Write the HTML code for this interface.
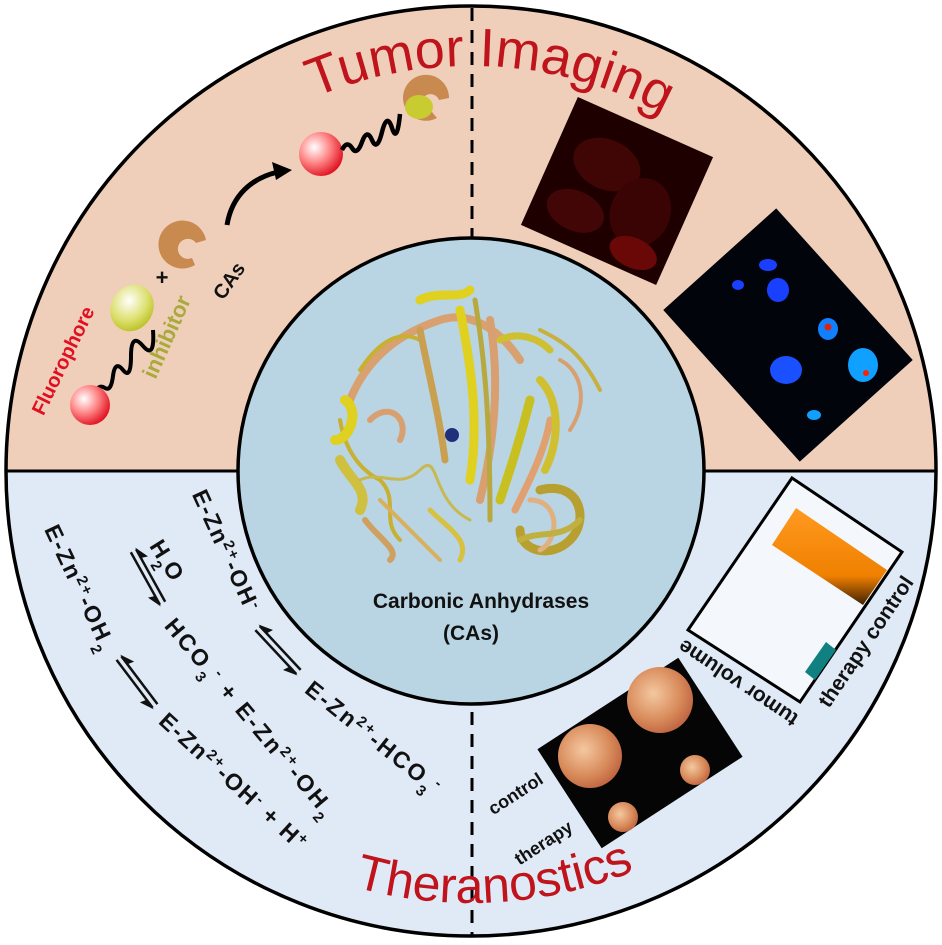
<!DOCTYPE html>
<html><head><meta charset="utf-8"><style>
html,body{margin:0;padding:0;background:#fff;}
svg{display:block;font-family:"Liberation Sans",Arial,sans-serif;}
.c{font-weight:bold;font-size:23px;fill:#111}
</style></head><body>
<svg width="942" height="945" viewBox="0 0 942 945" xmlns="http://www.w3.org/2000/svg">
<defs>
<clipPath id="top"><rect x="0" y="0" width="942" height="471"/></clipPath>
<clipPath id="bot"><rect x="0" y="471" width="942" height="480"/></clipPath>
<radialGradient id="rs" cx="0.35" cy="0.35" r="0.7"><stop offset="0" stop-color="#fff"/><stop offset="0.5" stop-color="#f88"/><stop offset="1" stop-color="#e01020"/></radialGradient>
<radialGradient id="gs" cx="0.35" cy="0.4" r="0.7"><stop offset="0" stop-color="#fff"/><stop offset="0.6" stop-color="#dde070"/><stop offset="1" stop-color="#b8c020"/></radialGradient>
<radialGradient id="tm" cx="0.4" cy="0.4" r="0.7"><stop offset="0" stop-color="#f4c8a0"/><stop offset="0.6" stop-color="#d88a5a"/><stop offset="1" stop-color="#b85a3a"/></radialGradient>
<linearGradient id="ob" x1="0" y1="0" x2="0" y2="1"><stop offset="0" stop-color="#ff9a20"/><stop offset="0.7" stop-color="#f08000"/><stop offset="1" stop-color="#402000"/></linearGradient>
<path id="p432" d="M39 471 A432 432 0 0 0 903 471"/>
<path id="ti" d="M66 471 A405 405 0 0 1 876 471"/>
<g id="eq">
<line x1="-30" y1="-3" x2="30" y2="-3" stroke="#111" stroke-width="2.5"/>
<polygon points="-32,-3 -18,-10 -20,-3" fill="#111"/>
<line x1="-30" y1="3" x2="30" y2="3" stroke="#111" stroke-width="2.5"/>
<polygon points="32,3 18,10 20,3" fill="#111"/>
</g>
</defs>
<circle cx="471" cy="471" r="465" fill="#f0cfba" clip-path="url(#top)"/>
<circle cx="471" cy="471" r="465" fill="#e0eaf6" clip-path="url(#bot)"/>
<line x1="6" y1="471" x2="936" y2="471" stroke="#000" stroke-width="3"/>
<line x1="472" y1="8" x2="472" y2="936" stroke="#000" stroke-width="3" stroke-dasharray="13,9"/>
<circle cx="471" cy="471" r="465" fill="none" stroke="#000" stroke-width="3.5"/>
<circle cx="471" cy="471" r="233" fill="#b9d4e2" stroke="#000" stroke-width="3.5"/>

<!-- protein -->
<g fill="none" stroke-linecap="round">
<path d="M350 400 C370 350 410 330 440 320 C470 310 500 330 520 360" stroke="#d9a070" stroke-width="8"/>
<path d="M360 370 C380 340 400 330 420 340" stroke="#c8b030" stroke-width="4"/>
<path d="M420 330 C430 380 440 420 445 460" stroke="#c8a050" stroke-width="7"/>
<path d="M460 310 C470 360 480 420 470 480" stroke="#e0d020" stroke-width="9"/>
<path d="M490 320 C500 380 495 440 480 500" stroke="#d8a070" stroke-width="8"/>
<path d="M475 300 C485 360 490 420 490 520" stroke="#b8a840" stroke-width="5"/>
<path d="M530 400 C520 440 510 470 500 500" stroke="#c8c020" stroke-width="9"/>
<path d="M550 420 C545 450 530 480 515 510" stroke="#e0a070" stroke-width="7"/>
<path d="M540 380 C560 400 560 440 545 470" stroke="#d0c030" stroke-width="8"/>
<path d="M340 420 C345 450 360 470 380 480 C400 500 380 520 400 540" stroke="#c8b030" stroke-width="4"/>
<path d="M345 400 C360 410 350 440 335 440" stroke="#e0d020" stroke-width="10"/>
<path d="M340 460 C350 480 370 490 360 510" stroke="#d0c040" stroke-width="10"/>
<path d="M365 520 C380 540 400 550 390 560" stroke="#d0a060" stroke-width="6"/>
<path d="M540 490 C580 480 590 520 570 540 C550 560 520 550 520 530" stroke="#b8a030" stroke-width="9"/>
<path d="M530 500 C560 500 560 540 540 550" stroke="#e0b080" stroke-width="5"/>
<path d="M380 500 C400 520 420 540 440 560" stroke="#d8b060" stroke-width="4"/>
<path d="M420 300 C440 290 460 300 470 290" stroke="#e0d020" stroke-width="9"/>
<path d="M540 330 C560 340 580 350 600 390" stroke="#c8b040" stroke-width="4"/>
<path d="M560 360 C580 370 590 400 570 430" stroke="#d8a070" stroke-width="4"/>
<path d="M360 480 C380 470 400 490 420 470 C440 450 430 500 470 520" stroke="#c8b850" stroke-width="3"/>
<path d="M430 510 C450 530 470 540 460 560" stroke="#d8c040" stroke-width="5"/>
<path d="M370 420 C390 400 410 420 400 440" stroke="#d8a070" stroke-width="6"/>
<path d="M500 340 C520 330 540 340 550 350" stroke="#d0c030" stroke-width="7"/>
<path d="M520 540 C540 530 560 540 580 520" stroke="#c0b040" stroke-width="6"/>
</g>
<circle cx="452" cy="435" r="7" fill="#20307a"/>
<text x="481" y="608" text-anchor="middle" font-weight="bold" font-size="21" fill="#111">Carbonic Anhydrases</text>
<text x="471" y="640" text-anchor="middle" font-weight="bold" font-size="21" fill="#111">(CAs)</text>

<text font-size="54" fill="#c0141c"><textPath href="#ti" startOffset="475">Tumor Imaging</textPath></text>
<text font-size="50" fill="#c0141c"><textPath href="#p432" startOffset="560">Theranostics</textPath></text>

<!-- top-left schematic -->
<text x="62" y="368" transform="rotate(-64 62 360)" text-anchor="middle" font-weight="bold" font-size="20" fill="#e01020">Fluorophore</text>
<path d="M95 392 q4 -8 10 -4 t8 -12 t10 -6 t8 -14 t12 -10 t10 -16" fill="none" stroke="#000" stroke-width="4"/>
<circle cx="90" cy="405" r="20" fill="url(#rs)"/>
<ellipse cx="132" cy="308" rx="21" ry="24" transform="rotate(30 132 308)" fill="url(#gs)"/>
<text x="167" y="344" transform="rotate(-66 167 337)" text-anchor="middle" font-weight="bold" font-size="22" fill="#a8aa3c">inhibitor</text>
<text x="162" y="285" text-anchor="middle" font-weight="bold" font-size="22" fill="#111">+</text>
<path d="M195 265 A24 24 0 1 1 206 240 L196 243 A10 10 0 1 0 192 258 Z" fill="#c98a50"/>
<text x="228" y="288" transform="rotate(-55 228 280)" text-anchor="middle" font-weight="bold" font-size="20" fill="#111">CAs</text>
<path d="M227 225 C232 195 252 178 278 172" fill="none" stroke="#000" stroke-width="5"/>
<polygon points="292,170 272,162 276,180" fill="#000"/>
<circle cx="321" cy="154" r="22" fill="url(#rs)"/>
<path d="M342 150 q5 -10 10 -2 t10 -6 t10 -2 t10 -8 t10 -4 t8 -14" fill="none" stroke="#000" stroke-width="4.5"/>
<path d="M437 118 A23 23 0 1 1 449 98 L439 100 A9 9 0 1 0 432 112 Z" fill="#c98a50"/>
<ellipse cx="419" cy="107" rx="14" ry="12" fill="#c8cc30"/>

<!-- red micrograph -->
<g transform="translate(617,191) rotate(24)">
<rect x="-74" y="-70" width="148" height="140" fill="#1e0000"/>
<ellipse cx="-20" cy="-20" rx="35" ry="25" fill="#400505"/>
<ellipse cx="30" cy="10" rx="30" ry="35" fill="#3a0404"/>
<ellipse cx="-30" cy="35" rx="30" ry="20" fill="#420606"/>
<ellipse cx="40" cy="50" rx="25" ry="15" fill="#6a0808"/>
</g>
<!-- blue image -->
<g transform="translate(788,335) rotate(48)">
<rect x="-102" y="-76" width="204" height="152" fill="#02040c"/>
<g transform="rotate(-48)">
<ellipse cx="-20" cy="-70" rx="9" ry="6" fill="#1a40ff"/>
<ellipse cx="-10" cy="-45" rx="11" ry="12" fill="#1a40ff"/>
<ellipse cx="-50" cy="-50" rx="6" ry="5" fill="#1a40ff"/>
<ellipse cx="40" cy="-6" rx="10" ry="11" fill="#1080ff"/><circle cx="40" cy="-8" r="3.5" fill="#e02010"/>
<ellipse cx="-2" cy="35" rx="16" ry="14" fill="#1a50ff"/>
<ellipse cx="75" cy="30" rx="15" ry="17" fill="#10a0ff"/><circle cx="78" cy="38" r="3" fill="#ff2000"/>
<ellipse cx="26" cy="80" rx="7" ry="5" fill="#10a0ff"/>
</g></g>

<!-- bar chart -->
<polygon points="792,478 902,552 800,702 688,630" fill="#f4f8fc" stroke="#000" stroke-width="3"/>
<polygon points="796,508 887,570 863,605 772,545" fill="url(#ob)"/>
<polygon points="826,642 836,650 815,680 805,672" fill="#108080"/>
<text x="738" y="690" transform="rotate(213.7 738 683)" text-anchor="middle" font-weight="bold" font-size="21" fill="#111">tumor volume</text>
<text x="865" y="649" transform="rotate(-56 865 641)" text-anchor="middle" font-weight="bold" font-size="21" fill="#111">therapy control</text>

<!-- tumor photo -->
<g transform="translate(640,753) rotate(-33)">
<rect x="-84" y="-59" width="168" height="118" fill="#050505"/>
</g>
<circle cx="590" cy="756" r="32" fill="url(#tm)"/>
<circle cx="660" cy="700" r="33" fill="url(#tm)"/>
<circle cx="695" cy="770" r="15" fill="url(#tm)"/>
<circle cx="623" cy="817" r="15" fill="url(#tm)"/>
<text x="515" y="800" transform="rotate(-33 515 793)" text-anchor="middle" font-weight="bold" font-size="18" fill="#111">control</text>
<text x="543" y="849" transform="rotate(-33 543 842)" text-anchor="middle" font-weight="bold" font-size="18" fill="#111">therapy</text>

<!-- chemistry -->
<text class="c" x="226" y="558" transform="rotate(65.4 226 550)" text-anchor="middle" textLength="130">E-Zn<tspan baseline-shift="super" font-size="15">2+</tspan>-OH<tspan baseline-shift="super" font-size="15">-</tspan></text>
<use href="#eq" transform="translate(278,650) rotate(47)"/>
<text class="c" x="373" y="745" transform="rotate(38.6 373 737)" text-anchor="middle" textLength="165">E-Zn<tspan baseline-shift="super" font-size="15">2+</tspan>-HCO<tspan baseline-shift="sub" font-size="15">3</tspan><tspan baseline-shift="super" font-size="15">-</tspan></text>

<text class="c" x="167" y="568" transform="rotate(58 167 560)" text-anchor="middle">H<tspan baseline-shift="sub" font-size="15">2</tspan>O</text>
<use href="#eq" transform="translate(148,577) rotate(61)"/>
<text class="c" x="250" y="725" transform="rotate(50 250 717)" text-anchor="middle" textLength="250">HCO<tspan baseline-shift="sub" font-size="15">3</tspan><tspan baseline-shift="super" font-size="15">-</tspan> + E-Zn<tspan baseline-shift="super" font-size="15">2+</tspan>-OH<tspan baseline-shift="sub" font-size="15">2</tspan></text>

<text class="c" x="80" y="595" transform="rotate(64.7 80 587)" text-anchor="middle" textLength="135">E-Zn<tspan baseline-shift="super" font-size="15">2+</tspan>-OH<tspan baseline-shift="sub" font-size="15">2</tspan></text>
<use href="#eq" transform="translate(137,682) rotate(53)"/>
<text class="c" x="233" y="789" transform="rotate(42.5 233 781)" text-anchor="middle" textLength="190">E-Zn<tspan baseline-shift="super" font-size="15">2+</tspan>-OH<tspan baseline-shift="super" font-size="15">-</tspan> + H<tspan baseline-shift="super" font-size="15">+</tspan></text>
</svg>
</body></html>
